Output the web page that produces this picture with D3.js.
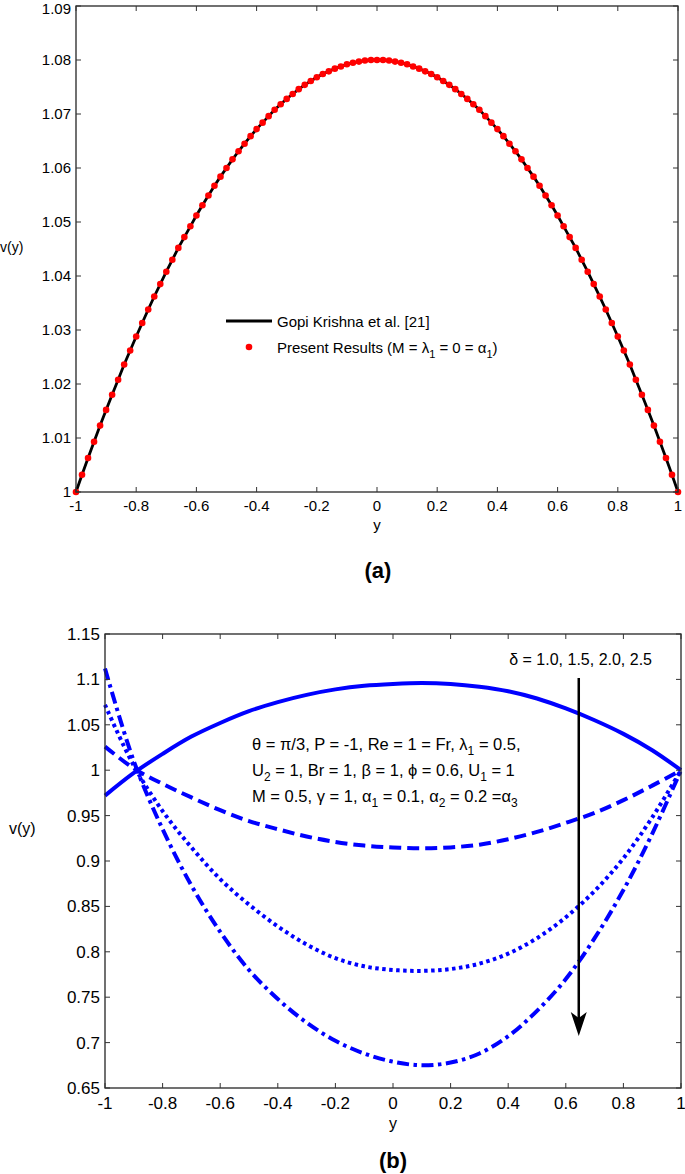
<!DOCTYPE html>
<html><head><meta charset="utf-8">
<script src="https://cdn.jsdelivr.net/npm/d3@7"></script>
<style>body{margin:0;background:#fff}svg{display:block;font-family:"Liberation Sans",Arial,sans-serif}</style>
</head><body>
<svg id="c" width="685" height="1174"></svg>
<script>
// ---------- Data: chart (a) ----------
const yA = [-1,-0.98,-0.96,-0.94,-0.92,-0.9,-0.88,-0.86,-0.84,-0.82,-0.8,-0.78,-0.76,-0.74,-0.72,-0.7,-0.68,-0.66,-0.64,-0.62,-0.6,-0.58,-0.56,-0.54,-0.52,-0.5,-0.48,-0.46,-0.44,-0.42,-0.4,-0.38,-0.36,-0.34,-0.32,-0.3,-0.28,-0.26,-0.24,-0.22,-0.2,-0.18,-0.16,-0.14,-0.12,-0.1,-0.08,-0.06,-0.04,-0.02,0,0.02,0.04,0.06,0.08,0.1,0.12,0.14,0.16,0.18,0.2,0.22,0.24,0.26,0.28,0.3,0.32,0.34,0.36,0.38,0.4,0.42,0.44,0.46,0.48,0.5,0.52,0.54,0.56,0.58,0.6,0.62,0.64,0.66,0.68,0.7,0.72,0.74,0.76,0.78,0.8,0.82,0.84,0.86,0.88,0.9,0.92,0.94,0.96,0.98,1];
const vA = [1.0,1.0032,1.0063,1.0093,1.0123,1.0152,1.018,1.0208,1.0236,1.0262,1.0288,1.0313,1.0338,1.0362,1.0385,1.0408,1.043,1.0452,1.0472,1.0492,1.0512,1.0531,1.0549,1.0567,1.0584,1.06,1.0616,1.0631,1.0645,1.0659,1.0672,1.0684,1.0696,1.0708,1.0718,1.0728,1.0737,1.0746,1.0754,1.0761,1.0768,1.0774,1.0779,1.0784,1.0788,1.0792,1.0795,1.0797,1.0799,1.08,1.08,1.08,1.0799,1.0797,1.0795,1.0792,1.0788,1.0784,1.0779,1.0774,1.0768,1.0761,1.0754,1.0746,1.0737,1.0728,1.0718,1.0708,1.0696,1.0684,1.0672,1.0659,1.0645,1.0631,1.0616,1.06,1.0584,1.0567,1.0549,1.0531,1.0512,1.0492,1.0472,1.0452,1.043,1.0408,1.0385,1.0362,1.0338,1.0313,1.0288,1.0262,1.0236,1.0208,1.018,1.0152,1.0123,1.0093,1.0063,1.0032,1.0];
const xTicksA = [-1,-0.8,-0.6,-0.4,-0.2,0,0.2,0.4,0.6,0.8,1];
const yTicksA = [1,1.01,1.02,1.03,1.04,1.05,1.06,1.07,1.08,1.09];

// ---------- Data: chart (b) ----------
const yB = [-1,-0.9,-0.8,-0.7,-0.6,-0.5,-0.4,-0.3,-0.2,-0.1,0,0.1,0.2,0.3,0.4,0.5,0.6,0.7,0.8,0.9,1];
const vDelta10 = [0.972,0.997,1.018,1.037,1.052,1.065,1.075,1.083,1.089,1.093,1.095,1.096,1.095,1.092,1.087,1.079,1.068,1.055,1.04,1.022,1.0];
const vDelta15 = [1.026,1.002,0.985,0.97,0.956,0.944,0.935,0.927,0.921,0.917,0.915,0.914,0.915,0.918,0.924,0.932,0.942,0.953,0.967,0.983,1.0];
const vDelta20 = [1.072,1.005,0.955,0.915,0.88,0.852,0.828,0.808,0.793,0.784,0.78,0.779,0.781,0.787,0.798,0.815,0.838,0.867,0.903,0.948,1.0];
const vDelta25 = [1.112,1.01,0.935,0.873,0.822,0.78,0.748,0.722,0.702,0.688,0.679,0.675,0.678,0.688,0.707,0.735,0.77,0.815,0.868,0.93,1.0];
const xTicksB = [-1,-0.8,-0.6,-0.4,-0.2,0,0.2,0.4,0.6,0.8,1];
const yTicksB = [0.65,0.7,0.75,0.8,0.85,0.9,0.95,1,1.05,1.1,1.15];
const arrowY = 0.645;

const svg = d3.select("#c");
const fmt = d => String(+d.toFixed(2));

function frame(g, x, y, xt, yt, tickColor){
  const [x0,x1] = x.range(), [y0,y1] = y.range();
  const tl = 5;
  g.append("rect").attr("x",x0).attr("y",y1).attr("width",x1-x0).attr("height",y0-y1)
    .attr("fill","none").attr("stroke","#262626").attr("stroke-width",1.3);
  xt.forEach(t=>{
    const px = x(t);
    g.append("line").attr("x1",px).attr("x2",px).attr("y1",y0).attr("y2",y0-tl).attr("stroke",tickColor);
    g.append("line").attr("x1",px).attr("x2",px).attr("y1",y1).attr("y2",y1+tl).attr("stroke",tickColor);
  });
  yt.forEach(t=>{
    const py = y(t);
    g.append("line").attr("x1",x0).attr("x2",x0+tl).attr("y1",py).attr("y2",py).attr("stroke",tickColor);
    g.append("line").attr("x1",x1).attr("x2",x1-tl).attr("y1",py).attr("y2",py).attr("stroke",tickColor);
  });
}

// ================= Chart (a) =================
{
  const x = d3.scaleLinear().domain([-1,1]).range([76,678]);
  const y = d3.scaleLinear().domain([1,1.09]).range([492,6]);
  const g = svg.append("g");
  const line = d3.line().x((d,i)=>x(yA[i])).y(d=>y(d));
  g.append("path").datum(vA).attr("d",line).attr("fill","none").attr("stroke","#000").attr("stroke-width",2.8);
  g.selectAll("circle.pt").data(vA).join("circle").attr("class","pt")
    .attr("cx",(d,i)=>x(yA[i])).attr("cy",d=>y(d)).attr("r",3.3).attr("fill","#ff0000");
  frame(g,x,y,xTicksA,yTicksA,"#333");
  g.selectAll("text.xt").data(xTicksA).join("text").attr("class","xt")
    .attr("x",d=>x(d)).attr("y",511).attr("text-anchor","middle").attr("font-size",15).text(fmt);
  g.selectAll("text.yt").data(yTicksA).join("text").attr("class","yt")
    .attr("x",71).attr("y",d=>Math.max(y(d)+5,14)).attr("text-anchor","end").attr("font-size",15).text(fmt);
  g.append("text").attr("x",377).attr("y",530).attr("text-anchor","middle").attr("font-size",15).text("y");
  g.append("text").attr("x",0).attr("y",252).attr("font-size",14).text("v(y)");
  g.append("text").attr("x",378).attr("y",578).attr("text-anchor","middle").attr("font-size",22).attr("font-weight","bold").text("(a)");
  // legend
  g.append("line").attr("x1",226).attr("x2",272).attr("y1",321).attr("y2",321).attr("stroke","#000").attr("stroke-width",2.8);
  g.append("text").attr("x",277).attr("y",327).attr("font-size",15).text("Gopi Krishna et al. [21]");
  g.append("circle").attr("cx",249).attr("cy",347).attr("r",3.3).attr("fill","#ff0000");
  const t2 = g.append("text").attr("x",277).attr("y",353).attr("font-size",15);
  t2.append("tspan").text("Present Results (M = λ");
  t2.append("tspan").attr("dy",5).attr("font-size",11).text("1");
  t2.append("tspan").attr("dy",-5).text(" = 0 = α");
  t2.append("tspan").attr("dy",5).attr("font-size",11).text("1");
  t2.append("tspan").attr("dy",-5).text(")");
}

// ================= Chart (b) =================
{
  const x = d3.scaleLinear().domain([-1,1]).range([105,681]);
  const y = d3.scaleLinear().domain([0.65,1.15]).range([1088,634]);
  const g = svg.append("g");
  const line = d3.line().x((d,i)=>x(yB[i])).y(d=>y(d)).curve(d3.curveCatmullRom);
  const series = [
    {v:vDelta10, dash:null},
    {v:vDelta15, dash:"12,6"},
    {v:vDelta20, dash:"3.5,3.5"},
    {v:vDelta25, dash:"12,4.5,3.5,4.5"}
  ];
  series.forEach(s=>{
    const p = g.append("path").datum(s.v).attr("d",line).attr("fill","none")
      .attr("stroke","#0000ff").attr("stroke-width",4);
    if(s.dash) p.attr("stroke-dasharray",s.dash);
  });
  frame(g,x,y,xTicksB,yTicksB,"#333");
  g.selectAll("text.xt").data(xTicksB).join("text").attr("class","xt")
    .attr("x",d=>x(d)).attr("y",1109).attr("text-anchor","middle").attr("font-size",17).text(fmt);
  g.selectAll("text.yt").data(yTicksB).join("text").attr("class","yt")
    .attr("x",100).attr("y",d=>y(d)+6).attr("text-anchor","end").attr("font-size",17).text(fmt);
  g.append("text").attr("x",393).attr("y",1129).attr("text-anchor","middle").attr("font-size",16).text("y");
  g.append("text").attr("x",9).attr("y",834).attr("font-size",16).text("v(y)");
  g.append("text").attr("x",393).attr("y",1168).attr("text-anchor","middle").attr("font-size",22).attr("font-weight","bold").text("(b)");

  // arrow
  const ax = x(arrowY);
  g.append("line").attr("x1",ax).attr("x2",ax).attr("y1",678).attr("y2",1025).attr("stroke","#000").attr("stroke-width",2.5);
  g.append("path").attr("d",`M${ax-8},1012 L${ax},1036 L${ax+8},1012 L${ax},1018 Z`).attr("fill","#000");
  g.append("text").attr("x",652).attr("y",665).attr("text-anchor","end").attr("font-size",16).text("δ = 1.0, 1.5, 2.0, 2.5");

  // parameter text
  const fs = 16.5, sub = 12;
  const l1 = g.append("text").attr("x",252).attr("y",750).attr("font-size",fs);
  l1.append("tspan").text("θ = π/3, P = -1, Re = 1 = Fr, λ");
  l1.append("tspan").attr("dy",5).attr("font-size",sub).text("1");
  l1.append("tspan").attr("dy",-5).text(" = 0.5,");
  const l2 = g.append("text").attr("x",252).attr("y",776).attr("font-size",fs);
  l2.append("tspan").text("U");
  l2.append("tspan").attr("dy",5).attr("font-size",sub).text("2");
  l2.append("tspan").attr("dy",-5).text(" = 1, Br = 1, β = 1, ϕ = 0.6, U");
  l2.append("tspan").attr("dy",5).attr("font-size",sub).text("1");
  l2.append("tspan").attr("dy",-5).text(" = 1");
  const l3 = g.append("text").attr("x",252).attr("y",802).attr("font-size",fs);
  l3.append("tspan").text("M = 0.5, γ = 1, α");
  l3.append("tspan").attr("dy",5).attr("font-size",sub).text("1");
  l3.append("tspan").attr("dy",-5).text(" = 0.1, α");
  l3.append("tspan").attr("dy",5).attr("font-size",sub).text("2");
  l3.append("tspan").attr("dy",-5).text(" = 0.2 =α");
  l3.append("tspan").attr("dy",5).attr("font-size",sub).text("3");
}
</script>
</body></html>
